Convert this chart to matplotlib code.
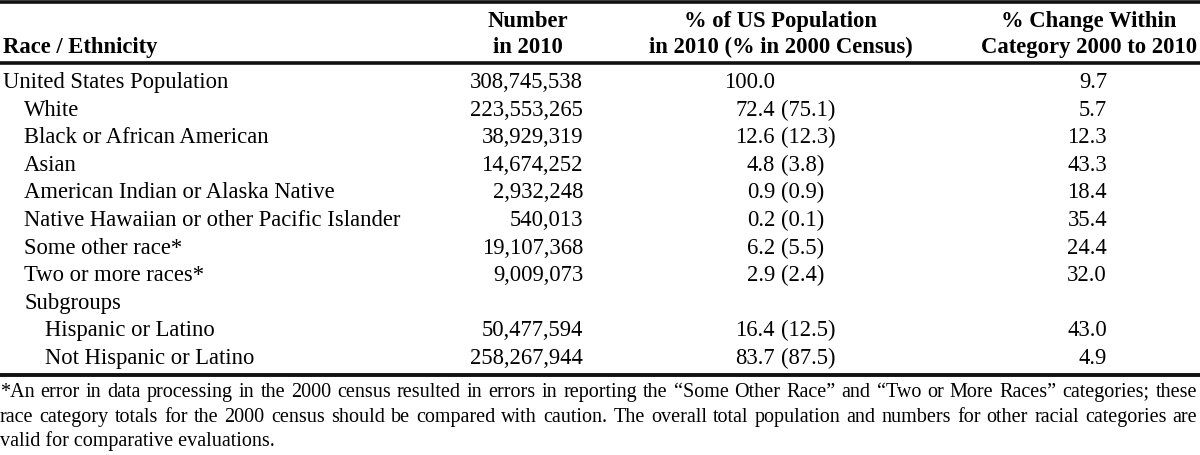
import matplotlib.pyplot as plt

# Table data
labels = ['United States Population', 'White', 'Black or African American', 'Asian',
          'American Indian or Alaska Native', 'Native Hawaiian or other Pacific Islander',
          'Some other race*', 'Two or more races*', 'Subgroups',
          'Hispanic or Latino', 'Not Hispanic or Latino']
indent = [0, 1, 1, 1, 1, 1, 1, 1, 1, 2, 2]
numbers = ['308,745,538', '223,553,265', '38,929,319', '14,674,252', '2,932,248',
           '540,013', '19,107,368', '9,009,073', '', '50,477,594', '258,267,944']
pct_2010 = ['100.0', '72.4', '12.6', '4.8', '0.9', '0.2', '6.2', '2.9', '', '16.4', '83.7']
pct_2000 = ['', '(75.1)', '(12.3)', '(3.8)', '(0.9)', '(0.1)', '(5.5)', '(2.4)', '', '(12.5)', '(87.5)']
pct_change = ['9.7', '5.7', '12.3', '43.3', '18.4', '35.4', '24.4', '32.0', '', '43.0', '4.9']

headers = ['Race / Ethnicity', 'Number\nin 2010', '% of US Population\nin 2010 (% in 2000 Census)',
           '% Change Within\nCategory 2000 to 2010']

footnote = [
    '*An error in data processing in the 2000 census resulted in errors in reporting the '
    '\u201cSome Other Race\u201d and \u201cTwo or More Races\u201d categories; these',
    'race category totals for the 2000 census should be compared with caution. The overall '
    'total population and numbers for other racial categories are',
    'valid for comparative evaluations.',
]

plt.rcParams['font.family'] = ['Liberation Serif', 'DejaVu Serif']

W, H = 1200, 455
fig = plt.figure(figsize=(W / 100, H / 100), dpi=100)
ax = fig.add_axes([0, 0, 1, 1])
ax.set_xlim(0, W)
ax.set_ylim(H, 0)
ax.axis('off')

fs = 16.3
# rules
ax.axhline(1.5, color='#111111', lw=2.6)
ax.axhline(63, color='#111111', lw=2.6)
ax.axhline(375, color='#111111', lw=2.8)

# headers
ax.text(3, 53, headers[0], fontsize=fs, fontweight='bold', ha='left', va='baseline')
for xc, h in zip([528, 781, 1089], headers[1:]):
    l1, l2 = h.split('\n')
    ax.text(xc, 27, l1, fontsize=fs, fontweight='bold', ha='center', va='baseline')
    ax.text(xc, 53, l2, fontsize=fs, fontweight='bold', ha='center', va='baseline')

# body rows
y0, step = 88, 27.6
for i, lab in enumerate(labels):
    y = y0 + i * step
    ax.text(3 + indent[i] * 21, y, lab, fontsize=fs, ha='left', va='baseline')
    ax.text(583, y, numbers[i], fontsize=fs, ha='right', va='baseline')
    ax.text(775, y, pct_2010[i], fontsize=fs, ha='right', va='baseline')
    ax.text(781, y, pct_2000[i], fontsize=fs, ha='left', va='baseline')
    ax.text(1107, y, pct_change[i], fontsize=fs, ha='right', va='baseline')

# footnote: pick the largest size that fits, then justify the full lines
renderer = fig.canvas.get_renderer()
target = 1197
ffs = 17.0
while ffs > 10:
    probe = [ax.text(0, 0, ln, fontsize=ffs) for ln in footnote[:2]]
    wmax = max(p.get_window_extent(renderer).width for p in probe)
    for p in probe:
        p.remove()
    if wmax <= target - 6:
        break
    ffs -= 0.25

fy0, fstep = 397, 24.5
for j, line in enumerate(footnote):
    y = round(fy0 + j * fstep)
    if j == len(footnote) - 1:
        ax.text(0, y, line, fontsize=ffs, ha='left', va='baseline')
        continue
    words = line.split(' ')
    texts = [ax.text(0, y, w, fontsize=ffs, ha='left', va='baseline') for w in words]
    widths = [t.get_window_extent(renderer).width for t in texts]
    gap = (target - sum(widths)) / (len(words) - 1)
    x = 0
    for t, w in zip(texts, widths):
        t.set_x(x)
        x += w + gap

fig.savefig('out.png', dpi=100)
